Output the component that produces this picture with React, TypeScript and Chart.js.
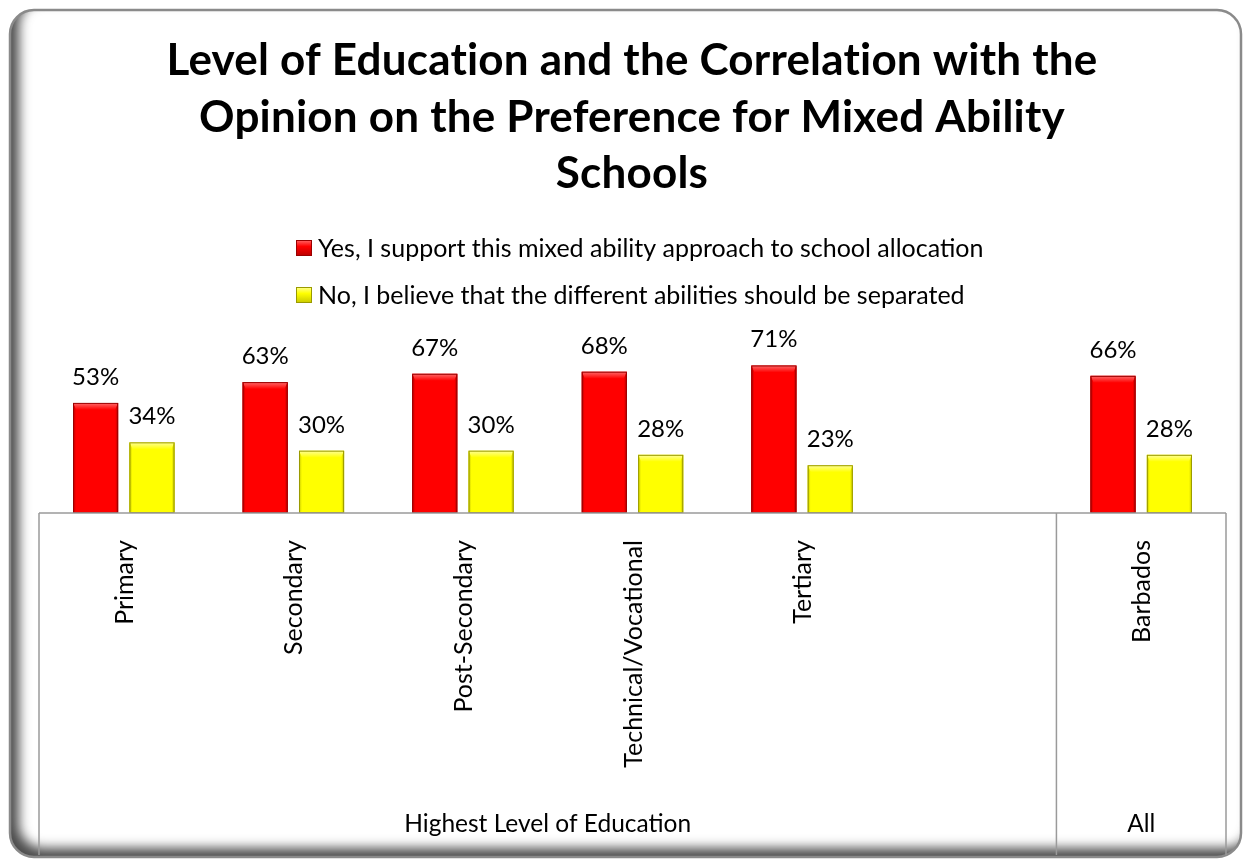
import React, { useEffect, useRef } from "react";
import { Chart, registerables } from "chart.js";

Chart.register(...registerables);

const TITLE_LINES = [
  "Level of Education and the Correlation with the",
  "Opinion on the Preference for Mixed Ability",
  "Schools",
];
const CATEGORIES = ["Primary", "Secondary", "Post-Secondary", "Technical/Vocational", "Tertiary", "", "Barbados"];
const SERIES_LABELS = [
  "Yes, I support this mixed ability approach to school allocation",
  "No, I believe that the different abilities should be separated",
];
const YES_VALUES = [53, 63, 67, 68, 71, null, 66];
const NO_VALUES = [34, 30, 30, 28, 23, null, 28];
const GROUP_LABELS = ["Highest Level of Education", "All"];
const GROUP_SPANS = [6, 1];

const FONT = "Lato, 'Open Sans', sans-serif";
const W = 1247;
const H = 862;

const COLORS = [
  { base: "#FF0000", light: "#FF6A6A", dark: "#B80000", edge: "#9A0000" },
  { base: "#FFFF00", light: "#FFFF9A", dark: "#C8C800", edge: "#9A9A00" },
];

function roundRectPath(ctx: CanvasRenderingContext2D, x: number, y: number, w: number, h: number, r: number) {
  ctx.beginPath();
  ctx.moveTo(x + r, y);
  ctx.lineTo(x + w - r, y);
  ctx.arcTo(x + w, y, x + w, y + r, r);
  ctx.lineTo(x + w, y + h - r);
  ctx.arcTo(x + w, y + h, x + w - r, y + h, r);
  ctx.lineTo(x + r, y + h);
  ctx.arcTo(x, y + h, x, y + h - r, r);
  ctx.lineTo(x, y + r);
  ctx.arcTo(x, y, x + r, y, r);
  ctx.closePath();
}

const framePlugin = {
  id: "frame",
  beforeDraw(chart: any) {
    const ctx: CanvasRenderingContext2D = chart.ctx;
    const fx = 10, fy = 10, fw = 1231, fh = 847, fr = 24;
    ctx.save();
    ctx.fillStyle = "#ffffff";
    ctx.fillRect(0, 0, W, H);
    roundRectPath(ctx, fx, fy, fw, fh, fr);
    ctx.clip();
    ctx.beginPath();
    ctx.rect(-200, -200, W + 400, H + 400);
    ctx.moveTo(fx + fr, fy);
    ctx.arcTo(fx, fy, fx, fy + fr, fr);
    ctx.lineTo(fx, fy + fh - fr);
    ctx.arcTo(fx, fy + fh, fx + fr, fy + fh, fr);
    ctx.lineTo(fx + fw - fr, fy + fh);
    ctx.arcTo(fx + fw, fy + fh, fx + fw, fy + fh - fr, fr);
    ctx.lineTo(fx + fw, fy + fr);
    ctx.arcTo(fx + fw, fy, fx + fw - fr, fy, fr);
    ctx.closePath();
    ctx.shadowColor = "rgba(0,0,0,0.7)";
    ctx.shadowBlur = 12;
    ctx.shadowOffsetX = 9;
    ctx.shadowOffsetY = -9;
    ctx.fillStyle = "#000";
    ctx.fill("evenodd");
    ctx.restore();
    ctx.save();
    roundRectPath(ctx, fx, fy, fw, fh, fr);
    ctx.strokeStyle = "#8a8a8a";
    ctx.lineWidth = 2.5;
    ctx.stroke();
    ctx.restore();
  },
};

const barPlugin = {
  id: "bevelLabels",
  afterDatasetsDraw(chart: any) {
    const ctx: CanvasRenderingContext2D = chart.ctx;
    chart.data.datasets.forEach((ds: any, di: number) => {
      const meta = chart.getDatasetMeta(di);
      const c = COLORS[di];
      meta.data.forEach((bar: any, i: number) => {
        const v = ds.data[i];
        if (v == null) return;
        const l = bar.x - bar.width / 2;
        const r = bar.x + bar.width / 2;
        const t = bar.y;
        const b = bar.base;
        const bv = 7;
        const sv = 3;
        ctx.save();
        const g = ctx.createLinearGradient(0, t, 0, t + bv);
        g.addColorStop(0, c.light);
        g.addColorStop(1, c.base);
        ctx.fillStyle = g;
        ctx.beginPath();
        ctx.moveTo(l, t);
        ctx.lineTo(r, t);
        ctx.lineTo(r - sv, t + bv);
        ctx.lineTo(l + sv, t + bv);
        ctx.closePath();
        ctx.fill();
        const gl = ctx.createLinearGradient(l, 0, l + sv, 0);
        gl.addColorStop(0, c.dark);
        gl.addColorStop(1, c.base);
        ctx.fillStyle = gl;
        ctx.beginPath();
        ctx.moveTo(l, t);
        ctx.lineTo(l + sv, t + bv);
        ctx.lineTo(l + sv, b - 2);
        ctx.lineTo(l, b);
        ctx.closePath();
        ctx.fill();
        const gr = ctx.createLinearGradient(r, 0, r - sv, 0);
        gr.addColorStop(0, c.dark);
        gr.addColorStop(1, c.base);
        ctx.fillStyle = gr;
        ctx.beginPath();
        ctx.moveTo(r, t);
        ctx.lineTo(r - sv, t + bv);
        ctx.lineTo(r - sv, b - 2);
        ctx.lineTo(r, b);
        ctx.closePath();
        ctx.fill();
        ctx.strokeStyle = c.edge;
        ctx.lineWidth = 1;
        ctx.strokeRect(l + 0.5, t + 0.5, r - l - 1, b - t - 1);
        ctx.fillStyle = "#000";
        ctx.font = `24px ${FONT}`;
        ctx.textAlign = "center";
        ctx.textBaseline = "alphabetic";
        ctx.fillText(`${v}%`, bar.x, t - 18);
        ctx.restore();
      });
    });
  },
};

const decorPlugin = {
  id: "decor",
  afterDraw(chart: any) {
    const ctx: CanvasRenderingContext2D = chart.ctx;
    const area = chart.chartArea;
    const xs = chart.scales.x;
    ctx.save();
    // title
    ctx.fillStyle = "#000";
    ctx.textAlign = "center";
    ctx.textBaseline = "alphabetic";
    ctx.font = `bold 44px ${FONT}`;
    try { (ctx as any).letterSpacing = "0.2px"; } catch (e) {}
    const titleBase = [75, 132, 188];
    TITLE_LINES.forEach((line, i) => ctx.fillText(line, 632, titleBase[i]));
    try { (ctx as any).letterSpacing = "0px"; } catch (e) {}

    // legend
    ctx.font = `25px ${FONT}`;
    ctx.textAlign = "left";
    const legBase = [257, 304];
    SERIES_LABELS.forEach((lab, i) => {
      const c = COLORS[i];
      const my = legBase[i] - 17;
      const g = ctx.createLinearGradient(296, my, 296, my + 16);
      g.addColorStop(0, c.light);
      g.addColorStop(0.4, c.base);
      g.addColorStop(1, c.dark);
      ctx.fillStyle = g;
      ctx.fillRect(296, my, 16, 16);
      ctx.strokeStyle = c.edge;
      ctx.lineWidth = 1;
      ctx.strokeRect(296.5, my + 0.5, 15, 15);
      ctx.fillStyle = "#000";
      ctx.fillText(lab, 318, legBase[i]);
    });

    // axis box
    const bottom = area.bottom;
    const boxBottom = 855;
    ctx.strokeStyle = "#9a9a9a";
    ctx.lineWidth = 1.5;
    ctx.beginPath();
    ctx.moveTo(area.left, bottom);
    ctx.lineTo(area.right, bottom);
    ctx.stroke();
    const n = CATEGORIES.length;
    const boundary = (i: number) => {
      if (i <= 0) return area.left;
      if (i >= n) return area.right;
      return (xs.getPixelForValue(i - 1) + xs.getPixelForValue(i)) / 2;
    };
    let start = 0;
    const edges = [0];
    GROUP_SPANS.forEach((s) => {
      start += s;
      edges.push(start);
    });
    ctx.beginPath();
    edges.forEach((e) => {
      const x = boundary(e);
      ctx.moveTo(x, bottom);
      ctx.lineTo(x, boxBottom);
    });
    ctx.stroke();

    // category labels (rotated)
    ctx.fillStyle = "#000";
    ctx.font = `25px ${FONT}`;
    CATEGORIES.forEach((cat, i) => {
      if (!cat) return;
      const x = xs.getPixelForValue(i);
      ctx.save();
      ctx.translate(x + 1, 540);
      ctx.rotate(-Math.PI / 2);
      ctx.textAlign = "right";
      ctx.textBaseline = "middle";
      ctx.fillText(cat, 0, 0);
      ctx.restore();
    });

    // group labels
    ctx.font = `24.5px ${FONT}`;
    ctx.textAlign = "center";
    ctx.textBaseline = "alphabetic";
    GROUP_LABELS.forEach((g, gi) => {
      const x = (boundary(edges[gi]) + boundary(edges[gi + 1])) / 2;
      ctx.fillText(g, x, 832);
    });
    ctx.restore();
  },
};

export default function App() {
  const ref = useRef<HTMLCanvasElement | null>(null);
  useEffect(() => {
    if (!ref.current) return;
    const chart = new Chart(ref.current, {
      type: "bar",
      data: {
        labels: CATEGORIES,
        datasets: [
          {
            label: SERIES_LABELS[0],
            data: YES_VALUES,
            backgroundColor: COLORS[0].base,
            categoryPercentage: 0.665,
            barPercentage: 0.8,
          },
          {
            label: SERIES_LABELS[1],
            data: NO_VALUES,
            backgroundColor: COLORS[1].base,
            categoryPercentage: 0.665,
            barPercentage: 0.8,
          },
        ],
      },
      options: {
        responsive: false,
        animation: false,
        devicePixelRatio: 1,
        layout: { padding: { left: 39, right: 21, top: 326, bottom: 349 } },
        plugins: {
          legend: { display: false },
          title: { display: false },
          tooltip: { enabled: false },
        },
        scales: {
          x: { display: false },
          y: { display: false, min: 0, max: 90 },
        },
      },
      plugins: [framePlugin, barPlugin, decorPlugin],
    } as any);
    return () => chart.destroy();
  }, []);
  return (
    <div style={{ position: "absolute", left: 0, top: 0, width: W, height: H }}>
      <canvas ref={ref} width={W} height={H} style={{ display: "block", width: W, height: H }} />
    </div>
  );
}
